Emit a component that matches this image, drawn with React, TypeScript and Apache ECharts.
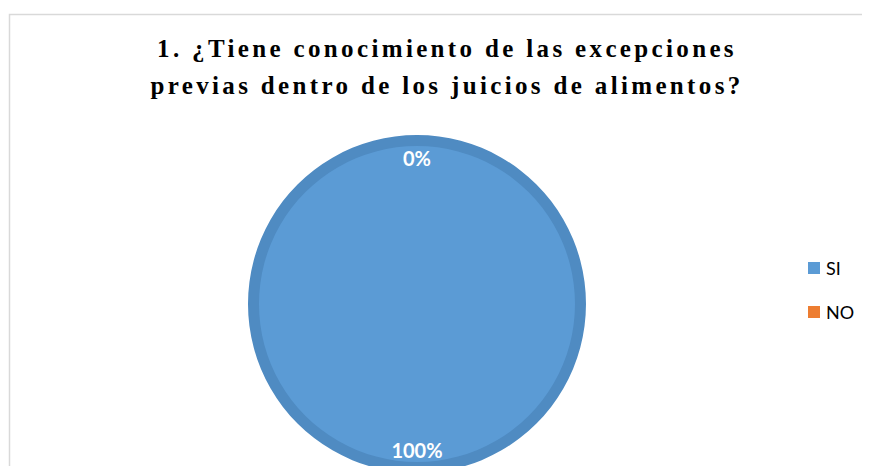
import React, { useEffect, useRef } from "react";
import * as echarts from "echarts";

const categories = ["SI", "NO"];
const values = [100, 0];
const fillColors = ["#5B9BD5", "#ED7D31"];
const ringColors = ["#4F8BC2", "#D06A25"];
const titleLines = ["1. ¿Tiene conocimiento de las excepciones", "previas dentro de los juicios de alimentos?"];

export default function App() {
  const ref = useRef<HTMLDivElement>(null);
  useEffect(() => {
    if (!ref.current) return;
    const chart = echarts.init(ref.current, null, { renderer: "svg" });
    const data = categories.map((c, i) => ({ name: c, value: values[i] }));
    chart.setOption({
      animation: false,
      backgroundColor: "#ffffff",
      title: {
        text: titleLines.join("\n"),
        left: 434,
        top: 17,
        textAlign: "center",
        padding: 5,
        textStyle: {
          fontFamily: "Liberation Serif",
          fontWeight: "bold",
          fontSize: 25,
          lineHeight: 37,
          color: "#000000",
        },
      },
      legend: {
        orient: "vertical",
        left: 795,
        top: 246,
        itemWidth: 12,
        itemHeight: 12,
        itemGap: 26,
        icon: "rect",
        data: categories.map((c, i) => ({ name: c, itemStyle: { color: fillColors[i] } })),
        textStyle: { fontFamily: "Lato", fontSize: 18, color: "#000000", padding: [0, 0, 0, 1] },
      },
      graphic: [
        {
          type: "rect",
          shape: { x: 1.5, y: 6.5, width: 1000, height: 1000 },
          style: { fill: "none", stroke: "#d9d9d9", lineWidth: 1.5 },
          silent: true,
        },
      ],
      series: [
        {
          name: "borde",
          type: "pie",
          center: [409, 296],
          radius: 169,
          silent: true,
          label: { show: false },
          labelLine: { show: false },
          data: data.map((d, i) => ({ ...d, itemStyle: { color: ringColors[i] } })),
        },
        {
          name: "relleno",
          type: "pie",
          center: [409, 296],
          radius: 158,
          silent: true,
          label: { show: false },
          labelLine: { show: false },
          data: data.map((d, i) => ({ ...d, itemStyle: { color: fillColors[i] } })),
        },
        {
          name: "etiquetas",
          type: "pie",
          center: [409, 296],
          radius: [118, 168],
          silent: true,
          itemStyle: { color: "transparent" },
          label: {
            show: true,
            position: "inside",
            formatter: "{d}%",
            fontFamily: "Lato",
            fontWeight: "bold",
            fontSize: 20,
            color: "#ffffff",
          },
          labelLine: { show: false },
          data,
        },
      ],
    });
    // widen the title's letter spacing as in the reference
    const texts = ref.current.querySelectorAll("text");
    texts.forEach((t) => {
      if (titleLines.includes((t.textContent || "").trim())) {
        t.setAttribute("letter-spacing", "3.35");
      }
    });
    return () => chart.dispose();
  }, []);
  return <div ref={ref} style={{ width: 862, height: 458 }} />;
}
